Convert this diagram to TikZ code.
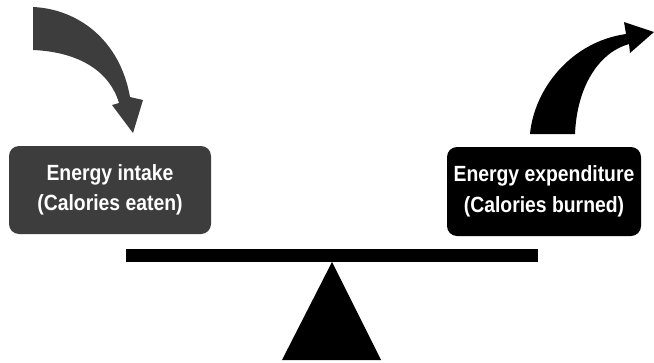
\documentclass[tikz,border=0pt]{standalone}
\usepackage{fontspec}
\setmainfont{Liberation Sans}[FakeStretch=0.88]
\begin{document}
\begin{tikzpicture}[x=1pt,y=-1pt,
  box/.style={rounded corners=10pt, inner sep=0pt, align=center,
    text=white, font=\bfseries\fontsize{22}{30.5}\selectfont},
  darkgray/.style={fill=black!76},
  blackfill/.style={fill=black}]
\useasboundingbox (0,0) rectangle (654,362);
% boxes
\node[box, darkgray, minimum width=202pt, minimum height=88pt] (intake) at (110,190)
  {Energy intake\\(Calories eaten)};
\node[box, blackfill, minimum width=194pt, minimum height=89pt] (expend) at (544,191.5)
  {Energy expenditure\\(Calories burned)};
% left curved arrow (intake)
\fill[black!76] (33,7) .. controls (78,9) and (120,40) .. (130,97)
  -- (143,100) -- (133,133) -- (112,105) -- (119,103)
  .. controls (110,72) and (80,52) .. (33,50) -- cycle;
% right curved arrow (expenditure)
\fill[black] (530,134) .. controls (534,90) and (570,42) .. (626,34)
  -- (624,22) -- (654,32) -- (630,53) -- (629,44)
  .. controls (600,52) and (577,85) .. (575,134) -- cycle;
% seesaw beam and fulcrum
\fill[black] (126,249) rectangle (538,262);
\fill[black] (332,262) -- (381,360) -- (282,360) -- cycle;
\end{tikzpicture}
\end{document}
